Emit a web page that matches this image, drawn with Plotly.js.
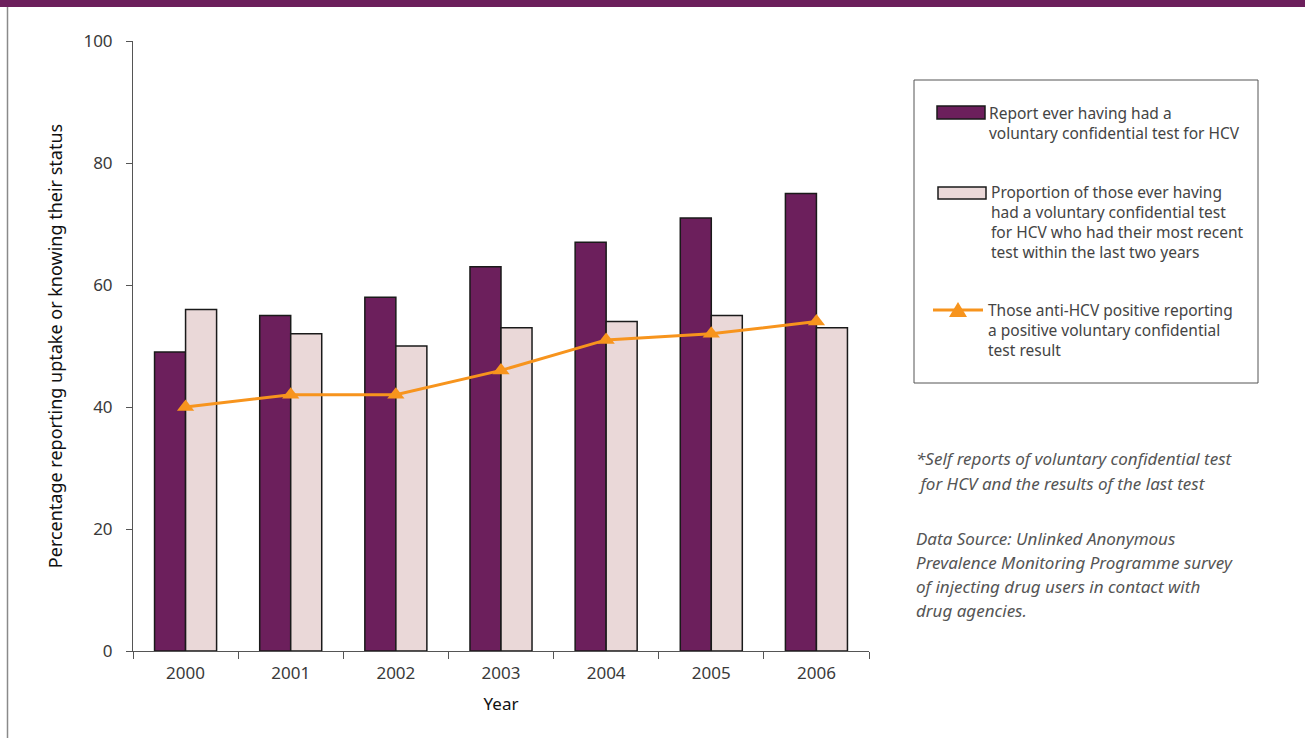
<!DOCTYPE html>
<html>
<head>
<meta charset="utf-8">
<script src="https://cdn.plot.ly/plotly-3.0.1.min.js"></script>
<style>
html,body{margin:0;padding:0;background:#fff;}
#chart{width:1305px;height:738px;}
</style>
</head>
<body>
<div id="chart"></div>
<script>
const years = ['2000','2001','2002','2003','2004','2005','2006'];
const everTested = [49, 55, 58, 63, 67, 71, 75];
const recentTest = [56, 52, 50, 53, 54, 55, 53];
const positiveReported = [40, 42, 42, 46, 51, 52, 54];

const seriesNames = [
  'Report ever having had a voluntary confidential test for HCV',
  'Proportion of those ever having had a voluntary confidential test for HCV who had their most recent test within the last two years',
  'Those anti-HCV positive reporting a positive voluntary confidential test result'
];
const legendTexts = [
  'Report ever having had a<br>voluntary confidential test for HCV',
  'Proportion of those ever having<br>had a voluntary confidential test<br>for HCV who had their most recent<br>test within the last two years',
  'Those anti-HCV positive reporting<br>a positive voluntary confidential<br>test result'
];

const noteLines = [
  '*Self reports of voluntary confidential test',
  ' for HCV and the results of the last test'
];
const sourceLines = [
  'Data Source: Unlinked Anonymous',
  'Prevalence Monitoring Programme survey',
  'of injecting drug users in contact with',
  'drug agencies.'
];

const FONT = 'Noto Sans, Open Sans, sans-serif';
const PURPLE = '#6c1f5c', PINK = '#ead8d8', ORANGE = '#f7941d';
const L = 133, R = 869, T = 41, B = 651, W = 1305, H = 738;
const px = x => (x - L) / (R - L);
const py = y => (B - y) / (B - T);

const traces = [
  {type:'bar', x: years, y: everTested, name: seriesNames[0],
   marker:{color:PURPLE, line:{color:'#1a1a1a', width:1.5}}},
  {type:'bar', x: years, y: recentTest, name: seriesNames[1],
   marker:{color:PINK, line:{color:'#1a1a1a', width:1.5}}},
  {type:'scatter', mode:'lines+markers', x: years, y: positiveReported, name: seriesNames[2],
   line:{color:ORANGE, width:3},
   marker:{symbol:'triangle-up', size:15, color:ORANGE}}
];

const annotations = [];
const legFont = {family:FONT, size:15.5, color:'#444'};
const legPos = [[987, 123], [989, 222.5], [986, 330]];
legendTexts.forEach((t,i)=>annotations.push({text:t, xref:'paper', yref:'paper', x:px(legPos[i][0]), y:py(legPos[i][1]),
  xanchor:'left', yanchor:'middle', align:'left', showarrow:false, font:legFont}));

const noteFont = {family:FONT, size:17, color:'#555', style:'italic'};
const addLines = (lines, ys, x, font) => lines.forEach((t,i)=>annotations.push({text:t, xref:'paper', yref:'paper',
  x:px(x), y:py(ys[i]), xanchor:'left', yanchor:'middle', showarrow:false, font:font}));
addLines(noteLines, [459, 483], 914, noteFont);
addLines(sourceLines, [538, 562, 586, 610], 914, noteFont);

const P = (x,y) => px(x).toFixed(5) + ',' + py(y).toFixed(5);

const layout = {
  width: W, height: H,
  margin:{l:L, r:W-R, t:T, b:H-B},
  paper_bgcolor:'#fff', plot_bgcolor:'#fff',
  font:{family:FONT, color:'#333'},
  barmode:'group', bargap:0.41, bargroupgap:0,
  showlegend:false,
  xaxis:{type:'category', showline:true, linecolor:'#555', linewidth:1, ticks:'outside', tickson:'boundaries',
    ticklen:7, tickcolor:'#555', showgrid:false, zeroline:false, ticklabelstandoff:7,
    tickfont:{family:FONT, size:17, color:'#3a3a3a'},
    title:{text:'Year', font:{family:FONT, size:17, color:'#111'}, standoff:14}},
  yaxis:{range:[0,100], tickvals:[0,20,40,60,80,100], showline:true, linecolor:'#555', linewidth:1,
    ticks:'outside', ticklen:6, tickcolor:'#555', showgrid:false, zeroline:false, ticklabelstandoff:10,
    tickfont:{family:FONT, size:17, color:'#3a3a3a'},
    title:{text:'Percentage reporting uptake or knowing their status', font:{family:FONT, size:18, color:'#111'}, standoff:16}},
  shapes:[
    {type:'rect', xref:'paper', yref:'paper', x0:px(-5), x1:px(W+5), y0:py(7), y1:py(-5), fillcolor:PURPLE, line:{width:0}, layer:'above'},
    {type:'line', xref:'paper', yref:'paper', x0:px(7.5), x1:px(7.5), y0:py(7), y1:py(H+5), line:{color:'#8a8a8a', width:1.5}},
    {type:'rect', xref:'paper', yref:'paper', x0:px(914), x1:px(1258), y0:py(383), y1:py(80), line:{color:'#555', width:1}, fillcolor:'rgba(0,0,0,0)'},
    {type:'rect', xref:'paper', yref:'paper', x0:px(937), x1:px(985), y0:py(119), y1:py(106), line:{color:'#1a1a1a', width:1.5}, fillcolor:PURPLE},
    {type:'rect', xref:'paper', yref:'paper', x0:px(938), x1:px(986), y0:py(199), y1:py(187), line:{color:'#1a1a1a', width:1.5}, fillcolor:PINK},
    {type:'line', xref:'paper', yref:'paper', x0:px(933), x1:px(983), y0:py(310), y1:py(310), line:{color:ORANGE, width:3}},
    {type:'path', xref:'paper', yref:'paper', path:'M' + P(958,302) + ' L' + P(967,317) + ' L' + P(949,317) + ' Z', fillcolor:ORANGE, line:{width:0}}
  ],
  annotations: annotations
};

Plotly.newPlot('chart', traces, layout, {displayModeBar:false, staticPlot:true});
</script>
</body>
</html>
